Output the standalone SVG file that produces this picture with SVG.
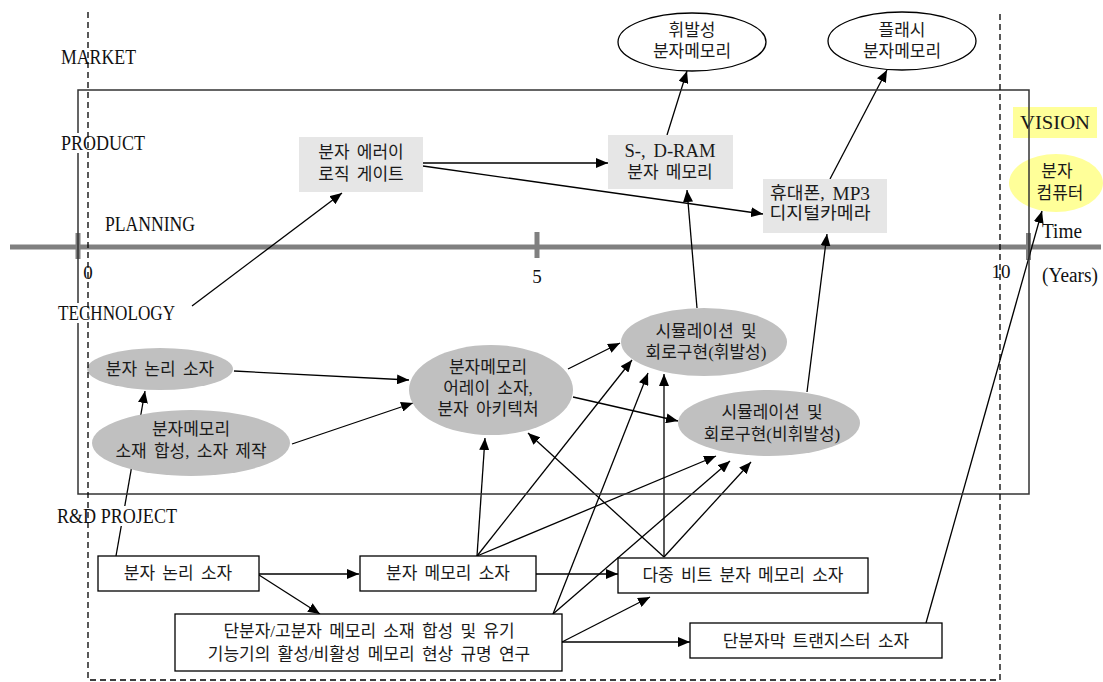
<svg xmlns="http://www.w3.org/2000/svg" width="1103" height="682" viewBox="0 0 1103 682">
<defs>
<marker id="ah" viewBox="0 0 12 10" refX="12" refY="5" markerWidth="12" markerHeight="10" markerUnits="userSpaceOnUse" orient="auto"><path d="M0,0 L12,5 L0,10 z" fill="#000"/></marker>
<style>
.lbl{font-family:"Liberation Serif",serif;font-size:20px;fill:#111}
.num{font-family:"Liberation Serif",serif;font-size:19px;fill:#111;text-anchor:middle}
.t{font-family:"Liberation Serif","Noto Sans CJK KR",sans-serif;font-size:17px;text-anchor:middle;word-spacing:3px;fill:#1a1a1a;dominant-baseline:central}
.lat{font-size:18px}
.gr{fill:#e6e6e6}
.ge{fill:#c0c0c0}
.wh{fill:#fff;stroke:#000;stroke-width:1.3}
.yl{fill:#ffff99}
.c{stroke:#000;stroke-width:1.3;fill:none;marker-end:url(#ah)}
.d{stroke:#000;stroke-width:1.3;stroke-dasharray:6 4;fill:none}
.bg{fill:#fff}
</style>
</defs>
<rect width="1103" height="682" fill="#fff"/>
<g id="timeline" fill="#808080">
<rect x="10" y="244.5" width="1091" height="5"/>
<rect x="75.5" y="233" width="5" height="26"/>
<rect x="534.5" y="232" width="5" height="26"/>
<rect x="1026" y="233" width="5" height="27"/>
</g>
<g id="connectors">
<line class="c" x1="192" y1="306" x2="342" y2="193"/>
<line class="c" x1="423" y1="163" x2="608" y2="163"/>
<line class="c" x1="423" y1="166" x2="763" y2="214"/>
<line class="c" x1="667" y1="135" x2="687" y2="71"/>
<line class="c" x1="830" y1="179" x2="887" y2="70"/>
<line class="c" x1="697" y1="308" x2="687" y2="190"/>
<line class="c" x1="807" y1="392" x2="827" y2="234"/>
<line class="c" x1="234" y1="371" x2="409" y2="380"/>
<line class="c" x1="292" y1="444" x2="413" y2="403"/>
<line class="c" x1="568" y1="369" x2="620" y2="343"/>
<line class="c" x1="573" y1="397" x2="678" y2="421"/>
<line class="c" x1="116" y1="556" x2="145" y2="391"/>
<line class="c" x1="926" y1="623" x2="1042" y2="211"/>
<line class="c" x1="259" y1="574" x2="359" y2="574"/>
<line class="c" x1="259" y1="575" x2="320" y2="614"/>
<line class="c" x1="536" y1="574" x2="618" y2="574"/>
<line class="c" x1="477" y1="556" x2="485" y2="438"/>
<line class="c" x1="477" y1="556" x2="632" y2="360"/>
<line class="c" x1="477" y1="556" x2="716" y2="456"/>
<line class="c" x1="664" y1="557" x2="528" y2="433"/>
<line class="c" x1="664" y1="557" x2="664" y2="374"/>
<line class="c" x1="664" y1="557" x2="751" y2="462"/>
<line class="c" x1="553" y1="614" x2="648" y2="373"/>
<line class="c" x1="553" y1="614" x2="730" y2="461"/>
<line class="c" x1="562" y1="642" x2="650" y2="597"/>
<line class="c" x1="562" y1="642" x2="690" y2="642"/>
</g>
<g id="n-market-volatile">
<ellipse class="wh" cx="692" cy="42" rx="74" ry="29"/>
<text class="t" x="692" y="30.5">휘발성</text>
<text class="t" x="692" y="51.5">분자메모리</text>
</g>
<g id="n-market-flash">
<ellipse class="wh" cx="902" cy="41" rx="74" ry="29"/>
<text class="t" x="902" y="30">플래시</text>
<text class="t" x="902" y="51">분자메모리</text>
</g>
<g id="n-prod-logic">
<rect class="gr" x="299" y="137" width="124" height="55"/>
<text class="t" x="361" y="152.5">분자 에러이</text>
<text class="t" x="361" y="174">로직 게이트</text>
</g>
<g id="n-prod-dram">
<rect class="gr" x="608" y="135" width="125" height="54"/>
<text class="t lat" x="670" y="151" textLength="91" lengthAdjust="spacingAndGlyphs">S-, D-RAM</text>
<text class="t" x="670" y="172">분자 메모리</text>
</g>
<g id="n-prod-phone">
<rect class="gr" x="763" y="179" width="124" height="54"/>
<text class="t" x="820" y="193.5" textLength="100" lengthAdjust="spacingAndGlyphs">휴대폰, <tspan class="lat">MP3</tspan></text>
<text class="t" x="820" y="213.5" textLength="101" lengthAdjust="spacingAndGlyphs">디지털카메라</text>
</g>
<g id="n-vision">
<rect class="yl" x="1013" y="107" width="84" height="31"/>
<text class="t lat" x="1055" y="122.5" textLength="70" lengthAdjust="spacingAndGlyphs">VISION</text>
</g>
<g id="n-computer">
<ellipse class="yl" cx="1056" cy="183" rx="47" ry="29"/>
<text class="t" x="1057" y="171.5">분자</text>
<text class="t" x="1060" y="193">컴퓨터</text>
</g>
<g id="n-tech-logic">
<ellipse class="ge" cx="160" cy="369" rx="73" ry="21"/>
<text class="t" x="160" y="369">분자 논리 소자</text>
</g>
<g id="n-tech-material">
<ellipse class="ge" cx="191" cy="443" rx="99" ry="33"/>
<text class="t" x="191" y="429">분자메모리</text>
<text class="t" x="191" y="451">소재 합성, 소자 제작</text>
</g>
<g id="n-tech-array">
<ellipse class="ge" cx="491" cy="390" rx="82" ry="45"/>
<text class="t" x="488" y="367">분자메모리</text>
<text class="t" x="488" y="388">어레이 소자,</text>
<text class="t" x="488" y="409">분자 아키텍처</text>
</g>
<g id="n-tech-sim-v">
<ellipse class="ge" cx="704" cy="342" rx="83" ry="34"/>
<text class="t" x="706" y="331">시뮬레이션 및</text>
<text class="t" x="706" y="352">회로구현(휘발성)</text>
</g>
<g id="n-tech-sim-nv">
<ellipse class="ge" cx="769" cy="423" rx="91" ry="33"/>
<text class="t" x="772" y="412">시뮬레이션 및</text>
<text class="t" x="772" y="434">회로구현(비휘발성)</text>
</g>
<g id="n-rd-logic">
<rect class="wh" x="98" y="556" width="161" height="35"/>
<text class="t" x="178" y="573">분자 논리 소자</text>
</g>
<g id="n-rd-memory">
<rect class="wh" x="360" y="556" width="176" height="35"/>
<text class="t" x="448" y="573">분자 메모리 소자</text>
</g>
<g id="n-rd-multibit">
<rect class="wh" x="618" y="558" width="250" height="35"/>
<text class="t" x="743" y="575">다중 비트 분자 메모리 소자</text>
</g>
<g id="n-rd-synth">
<rect class="wh" x="175" y="614" width="387" height="57"/>
<text class="t" x="369" y="631">단분자/고분자 메모리 소재 합성 및 유기</text>
<text class="t" x="369" y="654">기능기의 활성/비활성 메모리 현상 규명 연구</text>
</g>
<g id="n-rd-sam">
<rect class="wh" x="690" y="623" width="252" height="35"/>
<text class="t" x="816" y="641">단분자막 트랜지스터 소자</text>
</g>
<g id="frame">
<rect x="78" y="90" width="951" height="404" fill="none" stroke="#333" stroke-width="1.5"/>
</g>
<g id="labels">
<text class="lbl" x="61" y="64" textLength="75" lengthAdjust="spacingAndGlyphs">MARKET</text>
<rect class="bg" x="60" y="133" width="86" height="20"/>
<text class="lbl" x="61" y="150" textLength="84" lengthAdjust="spacingAndGlyphs">PRODUCT</text>
<text class="lbl" x="105" y="231" textLength="90" lengthAdjust="spacingAndGlyphs">PLANNING</text>
<rect class="bg" x="57" y="303" width="120" height="20"/>
<text class="lbl" x="58" y="320" textLength="117" lengthAdjust="spacingAndGlyphs">TECHNOLOGY</text>
<rect class="bg" x="56" y="506" width="123" height="20"/>
<text class="lbl" x="57" y="523" textLength="120" lengthAdjust="spacingAndGlyphs">R&amp;D PROJECT</text>
<text class="num" x="88" y="279">0</text>
<text class="num" x="537" y="283">5</text>
<text class="num" x="1001" y="278">10</text>
<text class="lbl" x="1042" y="238" textLength="40" lengthAdjust="spacingAndGlyphs">Time</text>
<text class="lbl" x="1042" y="282" textLength="56" lengthAdjust="spacingAndGlyphs">(Years)</text>
</g>
<g id="scope">
<polyline class="d" points="88,12 88,680 1000,680 1000,10"/>
</g>
</svg>
